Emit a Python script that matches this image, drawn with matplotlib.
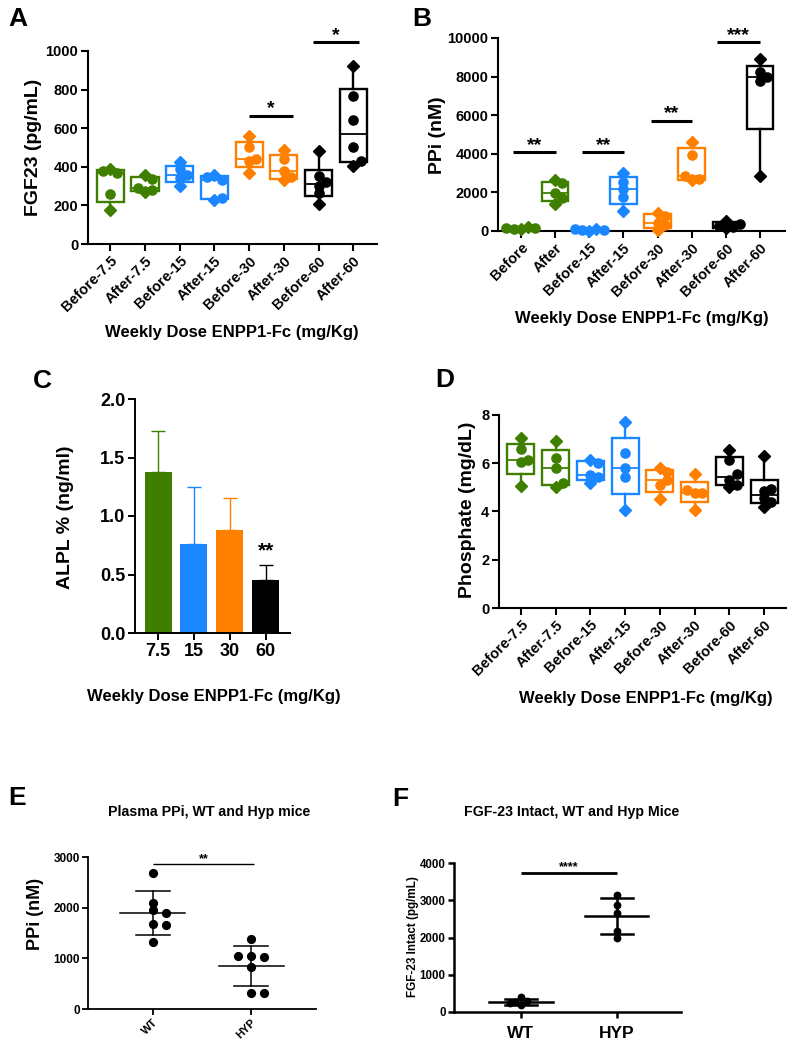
import numpy as np
import matplotlib
matplotlib.use("Agg")
import matplotlib.pyplot as plt
from matplotlib.patches import Rectangle

plt.rcParams["font.family"] = ["Liberation Sans", "DejaVu Sans"]
plt.rcParams["font.weight"] = "bold"

GREEN = "#3f7f00"
BLUE = "#1a86ff"
ORANGE = "#ff8000"
BLACK = "#000000"

# ---- panel A: FGF23 (pg/mL) ----
box_labels = ["Before-7.5", "After-7.5", "Before-15", "After-15",
              "Before-30", "After-30", "Before-60", "After-60"]
box_colors = [GREEN, GREEN, BLUE, BLUE, ORANGE, ORANGE, BLACK, BLACK]
fgf23_before_75 = [178, 260, 366, 380, 388]
fgf23_after_75 = [268, 278, 290, 335, 360]
fgf23_before_15 = [300, 342, 358, 388, 425]
fgf23_after_15 = [228, 240, 330, 348, 360]
fgf23_before_30 = [368, 430, 440, 500, 560]
fgf23_after_30 = [330, 345, 380, 440, 485]
fgf23_before_60 = [205, 265, 300, 320, 350, 480]
fgf23_after_60 = [405, 430, 505, 640, 765, 920]
fgf23_sig = [(4.0, 5.26, 665, "*"), (5.85, 7.15, 1045, "*")]

# ---- panel B: PPi (nM) ----
ppi_labels = ["Before", "After", "Before-15", "After-15",
              "Before-30", "After-30", "Before-60", "After-60"]
ppi_before_75 = [80, 100, 130, 160, 200]
ppi_after_75 = [1420, 1700, 1980, 2500, 2620]
ppi_before_15 = [20, 40, 60, 80, 100]
ppi_after_15 = [1040, 1750, 2200, 2550, 3030]
ppi_before_30 = [30, 300, 420, 760, 950]
ppi_after_30 = [2620, 2700, 2850, 3950, 4600]
ppi_before_60 = [130, 200, 280, 380, 520]
ppi_after_60 = [2850, 7750, 8000, 8250, 8900]
ppi_sig = [(-0.22, 1.03, 4100, "**"), (1.8, 3.03, 4100, "**"),
           (3.8, 5.0, 5720, "**"), (5.75, 7.0, 9790, "***")]

# ---- panel C: ALPL ----
alpl_doses = ["7.5", "15", "30", "60"]
alpl_mean = [1.38, 0.76, 0.88, 0.45]
alpl_sd = [0.35, 0.49, 0.27, 0.13]
alpl_colors = [GREEN, BLUE, ORANGE, BLACK]

# ---- panel D: phosphate (mg/dL) ----
phos_before_75 = [5.06, 6.05, 6.12, 6.6, 7.03]
phos_after_75 = [5.0, 5.2, 5.8, 6.2, 6.92]
phos_before_15 = [5.2, 5.42, 5.5, 6.03, 6.12]
phos_after_15 = [4.07, 5.42, 5.8, 6.41, 7.72]
phos_before_30 = [4.5, 5.1, 5.3, 5.65, 5.82]
phos_after_30 = [4.07, 4.75, 4.78, 4.88, 5.56]
phos_before_60 = [5.02, 5.1, 5.3, 5.55, 6.15, 6.55]
phos_after_60 = [4.18, 4.4, 4.55, 4.85, 4.95, 6.3]

# ---- panels E, F: WT vs HYP ----
geno_labels = ["WT", "HYP"]
plasma_ppi_wt = [2680, 2100, 1950, 1900, 1680, 1650, 1320]
plasma_ppi_hyp = [1390, 1040, 1020, 1040, 830, 320, 320]
fgf23_intact_wt = [400, 300, 270, 230, 190]
fgf23_intact_hyp = [3150, 2870, 2660, 2170, 2000]

W, H = 795, 1050
fig = plt.figure(figsize=(W / 100, H / 100), dpi=100)


def px_axes(left, top, right, bottom):
    return fig.add_axes([left / W, 1 - bottom / H, (right - left) / W, (bottom - top) / H])


def style_axes(ax, lw=1.5, ticklen=5, labelsize=10.5):
    for s in ("top", "right"):
        ax.spines[s].set_visible(False)
    for s in ("left", "bottom"):
        ax.spines[s].set_linewidth(lw)
    ax.tick_params(width=lw, length=ticklen, labelsize=labelsize, pad=2)


def swarm(vals, ypx, xpx, d, gap=0.9):
    # simple horizontal spreading so dots do not pile up
    placed, offs = [], []
    for v in vals:
        for k in (0, 1, -1, 2, -2):
            dx = k * d * 0.8
            if all((dx - px) ** 2 + ((v - pv) * ypx) ** 2 >= (d * gap) ** 2 for px, pv in placed):
                break
        placed.append((dx, v))
        offs.append(dx / xpx)
    return offs


def box_panel(ax, groups, colors, ylim, box_px):
    ax_w, ax_h, xlim = box_px
    ypx = ax_h / (ylim[1] - ylim[0])
    xpx = ax_w / (xlim[1] - xlim[0])
    hw = 0.39
    for i, (vals, c) in enumerate(zip(groups, colors)):
        v = np.sort(np.asarray(vals, dtype=float))
        q1, med, q3 = np.percentile(v, [25, 50, 75], method="weibull")
        ax.add_patch(Rectangle((i - hw, q1), 2 * hw, q3 - q1, fill=False,
                               ec=c, lw=1.7, zorder=3, clip_on=False))
        ax.plot([i - hw, i + hw], [med, med], color=c, lw=1.3, zorder=3, clip_on=False)
        ax.plot([i, i], [v[0], q1], color=c, lw=1.7, zorder=3, clip_on=False)
        ax.plot([i, i], [q3, v[-1]], color=c, lw=1.7, zorder=3, clip_on=False)
        order = [v[0], v[-1]] + list(v[1:-1])
        offs = swarm(order, ypx, xpx, 9, gap=0.7)
        for j, (val, o) in enumerate(zip(order, offs)):
            m = "D" if j < 2 else "o"
            ax.plot(i + o, val, marker=m, ms=5.8 if m == "D" else 6.6, color=c,
                    mec=c, zorder=4, clip_on=False, ls="none")
    ax.set_xlim(*xlim)
    ax.set_ylim(*ylim)


def sig_lines(ax, sigs, lw, fs, off):
    for x0, x1, y, lab in sigs:
        ax.plot([x0, x1], [y, y], color="black", lw=lw, clip_on=False, solid_capstyle="butt")
        ax.annotate(lab, xy=((x0 + x1) / 2, y), xytext=(0, off), textcoords="offset points",
                    ha="center", va="baseline", fontsize=fs, fontweight="bold",
                    annotation_clip=False)


# ---------- A ----------
A_box = (88, 51, 377, 244)
A_xlim = (-0.64, 7.68)
axA = px_axes(*A_box)
box_panel(axA, [fgf23_before_75, fgf23_after_75, fgf23_before_15, fgf23_after_15,
                fgf23_before_30, fgf23_after_30, fgf23_before_60, fgf23_after_60],
          box_colors, (0, 1000), (A_box[2] - A_box[0], A_box[3] - A_box[1], A_xlim))
style_axes(axA)
axA.set_yticks([0, 200, 400, 600, 800, 1000])
axA.set_xticks(range(8))
axA.set_xticklabels(box_labels, rotation=45, ha="right", rotation_mode="anchor", fontsize=10.5)
sig_lines(axA, fgf23_sig, 2.2, 14, 1.5)

# ---------- B ----------
B_box = (498, 38, 785, 231)
B_xlim = (-0.67, 7.73)
axB = px_axes(*B_box)
box_panel(axB, [ppi_before_75, ppi_after_75, ppi_before_15, ppi_after_15,
                ppi_before_30, ppi_after_30, ppi_before_60, ppi_after_60],
          box_colors, (0, 10000), (B_box[2] - B_box[0], B_box[3] - B_box[1], B_xlim))
style_axes(axB)
axB.set_yticks([0, 2000, 4000, 6000, 8000, 10000])
axB.set_xticks(range(8))
axB.set_xticklabels(ppi_labels, rotation=45, ha="right", rotation_mode="anchor", fontsize=10.5)
sig_lines(axB, ppi_sig, 2.2, 14, 1.5)

# ---------- C ----------
axC = px_axes(135, 399, 290, 633)
xc = np.arange(len(alpl_mean))
axC.bar(xc, alpl_mean, width=0.75, color=alpl_colors, zorder=2)
for x, m, s, c in zip(xc, alpl_mean, alpl_sd, alpl_colors):
    axC.errorbar(x, m, yerr=[[0], [s]], fmt="none", ecolor=c, elinewidth=1.0,
                 capsize=5, capthick=1.0, zorder=1)
axC.set_xlim(-0.64, 3.67)
axC.set_ylim(0, 2.0)
style_axes(axC, lw=1.4, ticklen=5, labelsize=13)
axC.set_yticks([0, 0.5, 1.0, 1.5, 2.0])
axC.set_yticklabels(["0.0", "0.5", "1.0", "1.5", "2.0"])
axC.set_xticks(xc)
axC.set_xticklabels(alpl_doses, fontsize=13)
axC.text(3, 0.655, "**", ha="center", va="baseline", fontsize=15, fontweight="bold")

# ---------- D ----------
D_box = (499, 415, 786, 608)
D_xlim = (-0.63, 7.63)
axD = px_axes(*D_box)
box_panel(axD, [phos_before_75, phos_after_75, phos_before_15, phos_after_15,
                phos_before_30, phos_after_30, phos_before_60, phos_after_60],
          box_colors, (0, 8), (D_box[2] - D_box[0], D_box[3] - D_box[1], D_xlim))
style_axes(axD)
axD.set_yticks([0, 2, 4, 6, 8])
axD.set_xticks(range(8))
axD.set_xticklabels(box_labels, rotation=45, ha="right", rotation_mode="anchor", fontsize=10.5)


# ---------- E / F scatter with mean +- SD ----------
def dot_panel(ax, groups, ylim, box, xlim, lw, ms, d):
    ax_w, ax_h = box[2] - box[0], box[3] - box[1]
    ypx = ax_h / (ylim[1] - ylim[0])
    xpx = ax_w / (xlim[1] - xlim[0])
    for i, vals in enumerate(groups):
        v = np.asarray(vals, dtype=float)
        m, s = v.mean(), v.std(ddof=1)
        offs = swarm(list(v), ypx, xpx, d)
        ax.plot(i + np.array(offs), v, "o", color="black", ms=ms, zorder=3, clip_on=False)
        ax.plot([i - 0.33, i + 0.33], [m, m], color="black", lw=lw, zorder=2)
        ax.plot([i - 0.17, i + 0.17], [m + s, m + s], color="black", lw=lw, zorder=2)
        ax.plot([i - 0.17, i + 0.17], [m - s, m - s], color="black", lw=lw, zorder=2)
        ax.plot([i, i], [m - s, m + s], color="black", lw=lw, zorder=2)
    ax.set_xlim(*xlim)
    ax.set_ylim(*ylim)


E_box = (88, 857, 316, 1009)
axE = px_axes(*E_box)
dot_panel(axE, [plasma_ppi_wt, plasma_ppi_hyp], (0, 3000), E_box, (-0.66, 1.66), 1.1, 5.6, 8)
style_axes(axE, lw=1.3, ticklen=4, labelsize=8.5)
axE.set_yticks([0, 1000, 2000, 3000])
axE.set_xticks([0, 1])
axE.set_xticklabels(geno_labels, rotation=45, ha="right", rotation_mode="anchor", fontsize=8)
sig_lines(axE, [(0.0, 1.03, 2870, "**")], 1.0, 9, 1.2)

F_box = (454, 863, 681, 1012)
axF = px_axes(*F_box)
dot_panel(axF, [fgf23_intact_wt, fgf23_intact_hyp], (0, 4000), F_box, (-0.7, 1.67), 1.8, 4.6, 7)
style_axes(axF, lw=1.8, ticklen=4, labelsize=8.3)
axF.set_yticks([0, 1000, 2000, 3000, 4000])
axF.set_xticks([0, 1])
axF.set_xticklabels(geno_labels, fontsize=12.5)
axF.tick_params(axis="x", pad=6)
sig_lines(axF, [(0.0, 1.0, 3740, "****")], 2.0, 9, 2.0)

# ---------- text: labels, titles, panel letters ----------
def ftext(x, y, s, **kw):
    fig.text(x / W, 1 - y / H, s, ha="center", va="center", fontweight="bold", **kw)


for letter, x, y in [("A", 18, 19), ("B", 422, 19), ("C", 42, 381),
                     ("D", 445, 380), ("E", 17, 798), ("F", 400, 799)]:
    ftext(x, y, letter, fontsize=19)

xlab = "Weekly Dose ENPP1-Fc (mg/Kg)"
ftext(232, 333, xlab, fontsize=12)
ftext(642, 318, xlab, fontsize=12)
ftext(214, 697, xlab, fontsize=12)
ftext(646, 699, xlab, fontsize=12)

ftext(33, 147, "FGF23 (pg/mL)", fontsize=14, rotation=90)
ftext(437, 135, "PPi (nM)", fontsize=14, rotation=90)
ftext(65, 517, "ALPL % (ng/ml)", fontsize=14, rotation=90)
ftext(468, 510, "Phosphate (mg/dL)", fontsize=14, rotation=90)
ftext(35, 914, "PPi (nM)", fontsize=13, rotation=90)
ftext(413, 937, "FGF-23 Intact (pg/mL)", fontsize=8.4, rotation=90,
      family=["Liberation Sans Narrow", "Liberation Sans"])

ftext(209, 812, "Plasma PPi, WT and Hyp mice", fontsize=10.2)
ftext(572, 812, "FGF-23 Intact, WT and Hyp Mice", fontsize=10.2)

fig.savefig("out.png", dpi=100)
